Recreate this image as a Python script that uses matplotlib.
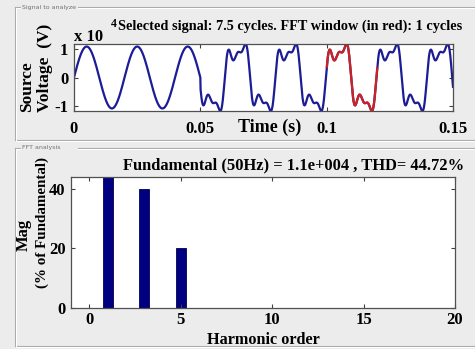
import numpy as np
import matplotlib.pyplot as plt
from matplotlib.lines import Line2D

# ---- data ----
f0 = 50                      # Hz
fund_amp = 1.1e4             # V, fundamental amplitude
t_end = 0.15                 # s
t_distort = 0.05             # harmonics are switched on here
fft_window = [0.1, 0.12]     # red part of the trace

harm_order = [1, 3, 5]
harm_mag = [100, 40, 20]     # % of fundamental
harm_phase = [0, 30, 30]     # deg

time_ticks = [0, 0.05, 0.1, 0.15]
volt_ticks = [-1, 0, 1]
order_ticks = [0, 5, 10, 15, 20]
mag_ticks = [0, 20, 40]

top_title = 'Selected signal: 7.5 cycles. FFT window (in red): 1 cycles'
bot_title = 'Fundamental (50Hz) = 1.1e+004 , THD= 44.72%'

# ---- build the time trace from the harmonic content ----
t = np.linspace(0, t_end, 3001)
th = 2 * np.pi * f0 * t
pure = fund_amp * np.sin(th)
dist = np.zeros_like(t)
for n, m, ph in zip(harm_order, harm_mag, harm_phase):
    dist += fund_amp * m / 100 * np.sin(n * th + np.deg2rad(ph))
v = np.where(t < t_distort, pure, dist) / 1e4

W, H = 475, 349
bg = '#ececec'
serif = ['Liberation Serif', 'DejaVu Serif']
plt.rcParams['font.family'] = serif
plt.rcParams['font.weight'] = 'bold'

fig = plt.figure(figsize=(W / 100, H / 100), dpi=100, facecolor=bg)

def fx(x):
    return x / W

def fy(y):
    return 1 - y / H

def px_axes(left, top, right, bottom):
    return fig.add_axes([fx(left), fy(bottom), (right - left) / W, (bottom - top) / H])

# panel frames
def panel(top, bottom, label):
    for dx, c in [(0, '#a8a8a8'), (1, 'white')]:
        fig.add_artist(Line2D([fx(15 + dx), fx(15 + dx)], [fy(top + dx), fy(bottom)], color=c, lw=0.8))
        fig.add_artist(Line2D([fx(15 + dx), fx(20)], [fy(top + dx)] * 2, color=c, lw=0.8))
        fig.add_artist(Line2D([fx(78), fx(W)], [fy(top + dx)] * 2, color=c, lw=0.8))
        fig.add_artist(Line2D([fx(15 + dx), fx(W)], [fy(bottom + dx)] * 2, color=c, lw=0.8))
    fig.text(fx(22), fy(top), label, fontsize=4.5, color='#707070', family='DejaVu Sans',
             weight='normal', va='center', ha='left')

panel(7, 140, 'Signal to analyze')
panel(148, 346, 'FFT analysis')

def style(ax):
    ax.set_facecolor('white')
    ax.tick_params(direction='in', top=True, right=True, length=3, width=0.8,
                   labelsize=12, pad=4, colors='#404040', labelcolor='black')
    for s in ax.spines.values():
        s.set_color('#505050')
        s.set_linewidth(0.9)
    for lab in ax.get_xticklabels() + ax.get_yticklabels():
        lab.set_fontweight('bold')

# ---- signal axes ----
ax1 = px_axes(74, 44, 453, 111)
inwin = (t >= fft_window[0]) & (t <= fft_window[1])
ax1.plot(t, v, color='#1c1c96', lw=1.6)
ax1.plot(t[inwin], v[inwin], color='#cc2222', lw=1.6)
ax1.set_xlim(0, t_end)
ax1.set_ylim(v.min(), v.max())
ax1.set_xticks(time_ticks)
ax1.set_xticklabels(['0', '0.05', '0.1', '0.15'])
ax1.set_yticks(volt_ticks)
ax1.set_yticklabels(['-1', '0', '1'])
style(ax1)
ax1.tick_params(axis='x', pad=7)

fig.text(fx(74), fy(41), 'x 10', fontsize=12, ha='left', va='baseline')
fig.text(fx(111), fy(27), '4', fontsize=8.5, ha='left', va='baseline')
fig.text(fx(118), fy(30), top_title, fontsize=10.3, ha='left', va='baseline')
fig.text(fx(270), fy(127), 'Time (s)', fontsize=13, ha='center', va='center')
fig.text(fx(27), fy(112), 'Source', fontsize=12.5, rotation=90, ha='center', va='bottom')
fig.text(fx(45), fy(112), 'Voltage  (V)', fontsize=12.5, rotation=90, ha='center', va='bottom')

# ---- FFT axes ----
ax2 = px_axes(71, 177, 455, 308)
ax2.bar(harm_order, harm_mag, width=0.55, color='#000080', edgecolor='#000050', lw=0.6)
ax2.set_xlim(-1, 20)
ax2.set_ylim(0, 44)
ax2.set_xticks(order_ticks)
ax2.set_yticks(mag_ticks)
style(ax2)
ax2.tick_params(axis='x', pad=3)

fig.text(fx(123), fy(169), bot_title, fontsize=11.9, ha='left', va='baseline')
fig.text(fx(263), fy(344), 'Harmonic order', fontsize=11.7, ha='center', va='baseline')
fig.text(fx(24), fy(235), 'Mag', fontsize=12, rotation=90, ha='center', va='center')
fig.text(fx(42), fy(222), '(% of Fundamental)', fontsize=10.8, rotation=90, ha='center', va='center')

fig.savefig('out.png', dpi=100, facecolor=bg)
